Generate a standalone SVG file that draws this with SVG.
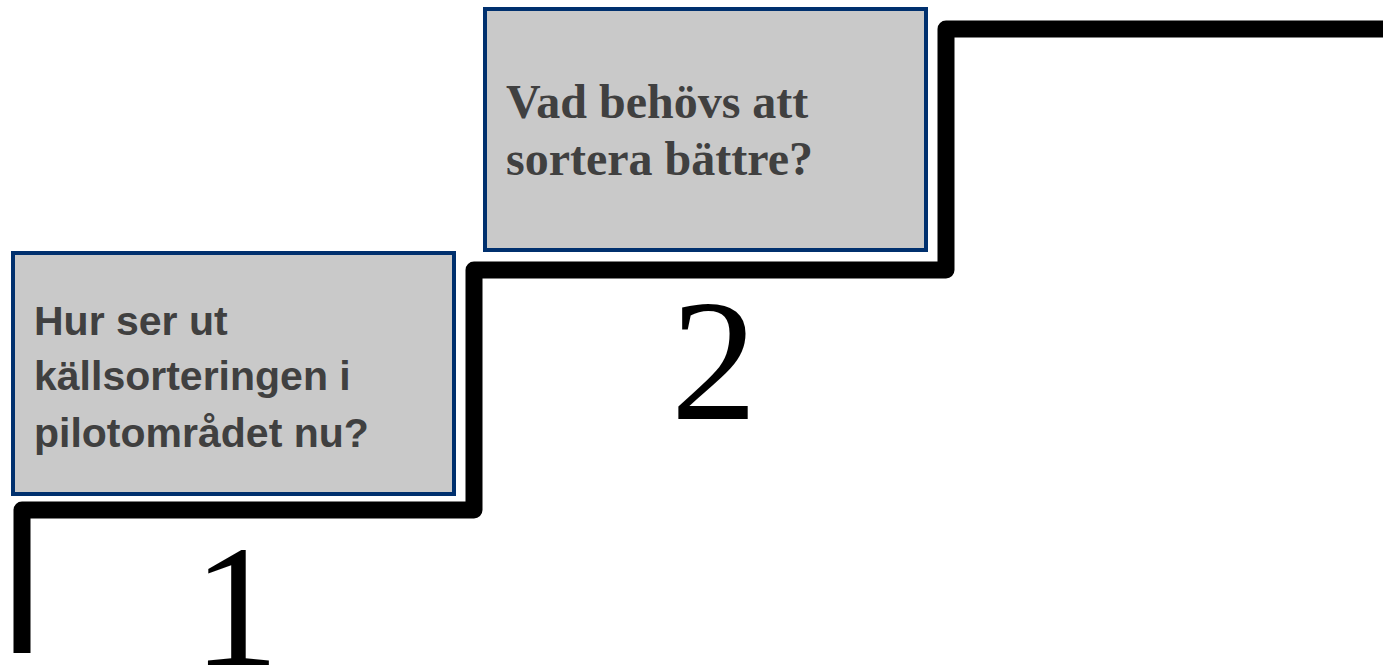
<svg xmlns="http://www.w3.org/2000/svg" width="1383" height="669" viewBox="0 0 1383 669">
<style>
.box{fill:#c9c9c9;stroke:#00306e;stroke-width:4}
.t1{font-family:"Liberation Sans",Arial,sans-serif;font-weight:bold;font-size:41px;fill:#404040}
.t2{font-family:"Liberation Serif","Times New Roman",serif;font-weight:bold;font-size:48px;fill:#404040}
.num{font-family:"Liberation Serif","Times New Roman",serif;font-size:173px;fill:#000;text-anchor:middle}
</style>
<rect width="1383" height="669" fill="#fff"/>
<g id="connectors">
<path d="M22,653 V510 H474 V270 H946 V29 H1390" fill="none" stroke="#000" stroke-width="17" stroke-linejoin="round"/>
</g>
<g id="step1">
<rect class="box" x="13" y="253" width="441" height="241"/>
<text class="t1" x="34" y="335">Hur ser ut</text>
<text class="t1" x="34" y="390">källsorteringen i</text>
<text class="t1" x="34" y="447">pilotområdet nu?</text>
</g>
<g id="step2">
<rect class="box" x="485" y="9" width="441" height="241"/>
<text class="t2" x="506" y="118">Vad behövs att</text>
<text class="t2" x="506" y="175">sortera bättre?</text>
</g>
<g id="label1"><text class="num" x="236" y="665">1</text></g>
<g id="label2"><text class="num" x="714" y="419">2</text></g>
</svg>
